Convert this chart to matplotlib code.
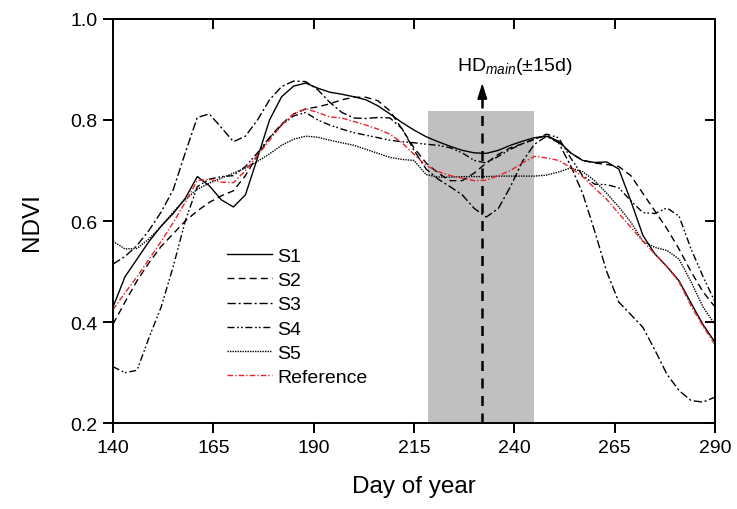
import matplotlib
matplotlib.use("Agg")
import matplotlib.pyplot as plt

plt.rcParams['font.family'] = ['Liberation Sans', 'DejaVu Sans']
plt.rcParams['mathtext.fontset'] = 'custom'
plt.rcParams['mathtext.rm'] = 'Liberation Sans'
plt.rcParams['mathtext.it'] = 'Liberation Sans:italic'

# day of year, sampled every 3 days
days = [140, 143, 146, 149, 152, 155, 158, 161, 164, 167, 170, 173, 176, 179, 182,
        185, 188, 191, 194, 197, 200, 203, 206, 209, 212, 215, 218, 221, 224, 227,
        230, 233, 236, 239, 242, 245, 248, 251, 254, 257, 260, 263, 266, 269, 272,
        275, 278, 281, 284, 287, 290]

s1 = [0.430, 0.490, 0.525, 0.560, 0.590, 0.615, 0.645, 0.688, 0.670, 0.642, 0.628,
      0.652, 0.725, 0.800, 0.846, 0.867, 0.873, 0.863, 0.855, 0.851, 0.846, 0.840,
      0.828, 0.812, 0.795, 0.780, 0.767, 0.757, 0.748, 0.740, 0.735, 0.734, 0.740,
      0.750, 0.758, 0.765, 0.768, 0.758, 0.735, 0.720, 0.716, 0.717, 0.703, 0.640,
      0.572, 0.535, 0.510, 0.482, 0.438, 0.395, 0.360]

s2 = [0.396, 0.440, 0.482, 0.518, 0.550, 0.575, 0.600, 0.620, 0.637, 0.650, 0.660,
      0.690, 0.730, 0.765, 0.792, 0.812, 0.822, 0.826, 0.832, 0.840, 0.845, 0.845,
      0.838, 0.818, 0.782, 0.745, 0.715, 0.695, 0.680, 0.680, 0.695, 0.715, 0.732,
      0.745, 0.753, 0.762, 0.770, 0.757, 0.735, 0.720, 0.715, 0.712, 0.708, 0.690,
      0.655, 0.620, 0.585, 0.545, 0.500, 0.460, 0.430]

s3 = [0.515, 0.530, 0.552, 0.582, 0.618, 0.662, 0.735, 0.805, 0.812, 0.785, 0.757,
      0.768, 0.800, 0.840, 0.866, 0.877, 0.876, 0.860, 0.835, 0.815, 0.804, 0.803,
      0.805, 0.804, 0.783, 0.740, 0.703, 0.683, 0.668, 0.652, 0.625, 0.608, 0.625,
      0.668, 0.718, 0.752, 0.768, 0.755, 0.710, 0.655, 0.580, 0.500, 0.440, 0.415,
      0.390, 0.345, 0.297, 0.265, 0.245, 0.242, 0.252]

s4 = [0.312, 0.300, 0.305, 0.370, 0.430, 0.510, 0.600, 0.668, 0.683, 0.688, 0.690,
      0.708, 0.735, 0.765, 0.790, 0.808, 0.815, 0.800, 0.790, 0.782, 0.775, 0.770,
      0.765, 0.760, 0.757, 0.755, 0.752, 0.750, 0.745, 0.735, 0.720, 0.715, 0.728,
      0.742, 0.753, 0.762, 0.772, 0.765, 0.725, 0.690, 0.673, 0.672, 0.666, 0.640,
      0.617, 0.615, 0.626, 0.610, 0.545, 0.490, 0.440]

s5 = [0.560, 0.545, 0.546, 0.565, 0.590, 0.618, 0.643, 0.663, 0.675, 0.685, 0.695,
      0.705, 0.718, 0.733, 0.750, 0.762, 0.768, 0.766, 0.760, 0.755, 0.750, 0.742,
      0.734, 0.726, 0.722, 0.720, 0.692, 0.687, 0.687, 0.688, 0.688, 0.688, 0.689,
      0.689, 0.689, 0.689, 0.691, 0.697, 0.705, 0.698, 0.680, 0.655, 0.628, 0.598,
      0.560, 0.548, 0.542, 0.525, 0.480, 0.430, 0.395]

reference = [0.425, 0.458, 0.490, 0.525, 0.560, 0.597, 0.637, 0.680, 0.683, 0.677,
             0.676, 0.700, 0.730, 0.760, 0.790, 0.812, 0.822, 0.815, 0.806, 0.804,
             0.797, 0.790, 0.782, 0.772, 0.755, 0.732, 0.710, 0.698, 0.690, 0.685,
             0.680, 0.681, 0.690, 0.700, 0.715, 0.728, 0.725, 0.720, 0.706, 0.688,
             0.665, 0.643, 0.615, 0.588, 0.560, 0.535, 0.510, 0.480, 0.432, 0.392,
             0.355]

xticks = [140, 165, 190, 215, 240, 265, 290]
yticks = [0.2, 0.4, 0.6, 0.8, 1.0]

hd_day = 232
hd_window = (218.5, 245)
hd_top = 0.818

fig = plt.figure(figsize=(7.37, 5.10), dpi=100)
ax = fig.add_axes([0.1533, 0.168, 0.817, 0.793])

# harvest window
ax.axvspan(hd_window[0], hd_window[1], ymin=0, ymax=(hd_top - 0.2) / 0.8,
           color='#c0c0c0', lw=0, zorder=0)

ax.plot(days, s1, color='k', lw=1.0, label='S1')
ax.plot(days, s2, color='k', lw=1.0, dashes=(5, 3), label='S2')
ax.plot(days, s3, color='k', lw=1.0, dashes=(6, 2, 1.5, 2), label='S3')
ax.plot(days, s4, color='k', lw=1.0, dashes=(5, 2, 1.2, 1.5, 1.2, 2), label='S4')
ax.plot(days, s5, color='k', lw=1.0, dashes=(1, 0.8), label='S5')
ax.plot(days, reference, color='#e3262b', lw=1.0, dashes=(4, 1.5, 1, 1.5),
        label='Reference')

# HD main marker
ax.plot([hd_day, hd_day], [0.2, 0.85], color='k', lw=1.8, dashes=(4, 3), zorder=3)
ax.annotate('', xy=(hd_day, 0.873), xytext=(hd_day, 0.846),
            arrowprops=dict(arrowstyle='-|>,head_width=0.3,head_length=0.95',
                            color='k', lw=1.2, shrinkA=0, shrinkB=0))
ax.text(240, 0.907, r'HD$_{\mathit{main}}$(±15d)', fontsize=14,
        ha='center', va='center')

ax.set_xlim(140, 290)
ax.set_ylim(0.2, 1.0)
ax.set_xticks(xticks)
ax.set_yticks(yticks)
ax.set_yticklabels([f'{v:.1f}' for v in yticks])
ax.tick_params(direction='out', length=7, width=1.4, labelsize=14, pad=4)
for sp in ax.spines.values():
    sp.set_linewidth(1.4)

secx = ax.secondary_xaxis('top')
secx.set_xticks(xticks)
secx.tick_params(direction='in', length=7, width=1.4, labeltop=False)
secx.spines['top'].set_linewidth(1.4)
secy = ax.secondary_yaxis('right')
secy.set_yticks(yticks)
secy.tick_params(direction='in', length=7, width=1.4, labelright=False)
secy.spines['right'].set_linewidth(1.4)

ax.set_xlabel('Day of year', fontsize=17.5, labelpad=14)
ax.set_ylabel('NDVI', fontsize=17.5, labelpad=20)

ax.legend(loc='upper left', bbox_to_anchor=(0.189, 0.435), frameon=False,
          fontsize=14, handlelength=2.3, handletextpad=0.3, labelspacing=0.34,
          borderpad=0, borderaxespad=0)

fig.savefig('out.png', dpi=100)
